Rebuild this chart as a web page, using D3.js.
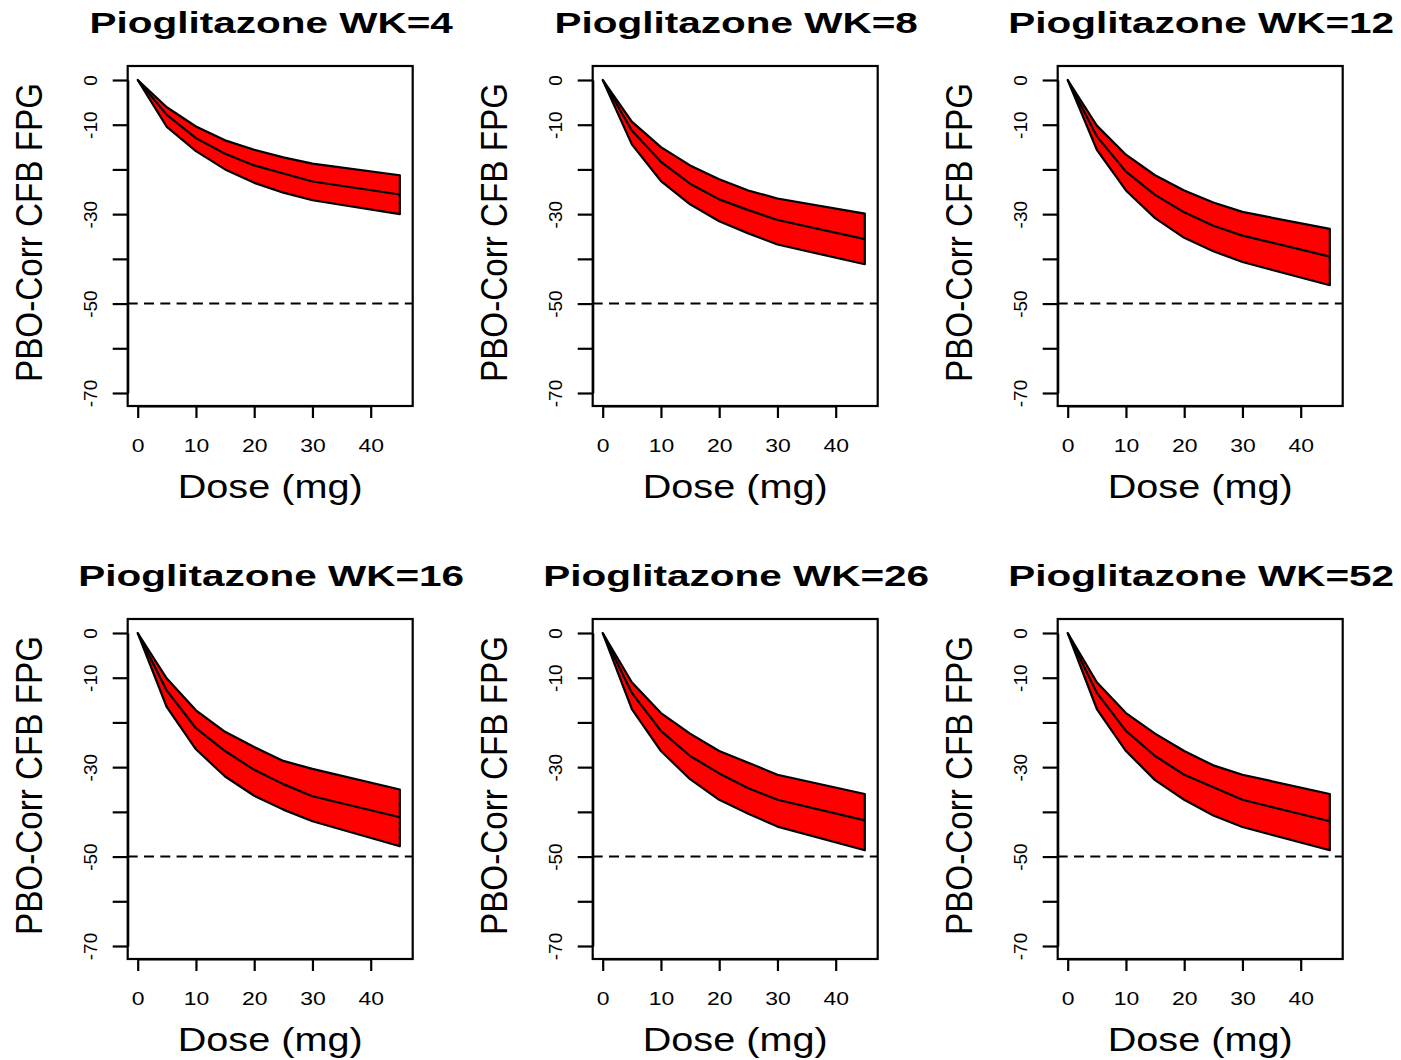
<!DOCTYPE html>
<html>
<head>
<meta charset="utf-8">
<script src="https://cdn.jsdelivr.net/npm/d3@7"></script>
<style>
  html, body { margin: 0; padding: 0; background: #ffffff; }
  svg { display: block; }
  text { font-family: "Liberation Sans", Arial, Helvetica, sans-serif; fill: #000; }
</style>
</head>
<body>
<svg id="chart" width="1401" height="1060"></svg>
<script>
// ---------------- data ----------------
const doses = [0, 5, 10, 15, 20, 25, 30, 45];
const weeks = [4, 8, 12, 16, 26, 52];

const wk4Upper  = [0, -6.1, -10.4, -13.5, -15.6, -17.3, -18.7, -21.3];
const wk4Mean   = [0, -7.8, -13.0, -16.5, -19.1, -20.9, -22.7, -25.6];
const wk4Lower  = [0, -10.5, -15.9, -20.0, -23.0, -25.2, -26.9, -30.0];

const wk8Upper  = [0, -9.3, -15.0, -19.1, -22.2, -24.7, -26.5, -29.9];
const wk8Mean   = [0, -11.3, -18.3, -23.2, -26.7, -29.1, -31.3, -35.6];
const wk8Lower  = [0, -14.4, -22.6, -27.8, -31.6, -34.3, -36.8, -41.2];

const wk12Upper = [0, -10.2, -16.7, -21.3, -24.7, -27.4, -29.5, -33.3];
const wk12Mean  = [0, -12.6, -20.5, -25.7, -29.6, -32.6, -34.8, -39.5];
const wk12Lower = [0, -15.6, -24.7, -30.9, -35.3, -38.3, -40.7, -45.9];

const wk16Upper = [0, -10.2, -17.3, -22.1, -25.5, -28.6, -30.4, -35.0];
const wk16Mean  = [0, -12.9, -21.3, -26.4, -30.6, -33.8, -36.5, -41.2];
const wk16Lower = [0, -16.6, -26.0, -32.1, -36.4, -39.5, -42.1, -47.7];

const wk26Upper = [0, -11.0, -17.9, -22.5, -26.4, -29.0, -31.7, -36.0];
const wk26Mean  = [0, -13.4, -21.9, -27.5, -31.4, -34.7, -37.3, -41.9];
const wk26Lower = [0, -17.0, -26.4, -32.7, -37.3, -40.4, -43.3, -48.6];

const wk52Upper = [0, -11.0, -17.9, -22.5, -26.4, -29.6, -31.7, -36.0];
const wk52Mean  = [0, -13.4, -21.9, -27.5, -31.7, -34.5, -37.3, -42.1];
const wk52Lower = [0, -17.0, -26.4, -32.9, -37.3, -40.8, -43.4, -48.6];

const uppers = [wk4Upper, wk8Upper, wk12Upper, wk16Upper, wk26Upper, wk52Upper];
const means  = [wk4Mean, wk8Mean, wk12Mean, wk16Mean, wk26Mean, wk52Mean];
const lowers = [wk4Lower, wk8Lower, wk12Lower, wk16Lower, wk26Lower, wk52Lower];

const xTicks = [0, 10, 20, 30, 40];
const yTicks = [0, -10, -20, -30, -40, -50, -60, -70];
const yTickLabels = ["0", "-10", "", "-30", "", "-50", "", "-70"];
const refLine = -50;

const titlePrefix = "Pioglitazone WK=";
const xTitle = "Dose (mg)";
const yTitle = "PBO-Corr CFB FPG";

// ---------------- layout ----------------
const colLeft = [127.7, 592.7, 1057.7];
const rowTop = [66, 619];
const boxW = 285, boxH = 340;

const svg = d3.select("#chart");

weeks.forEach((wk, i) => {
  const left = colLeft[i % 3];
  const top = rowTop[Math.floor(i / 3)];

  const x = d3.scaleLinear().domain([0, 40]).range([left + 10, left + 243]);
  const y = d3.scaleLinear().domain([-70, 0]).range([top + 327, top + 14]);

  const g = svg.append("g");

  const pts = doses.map((d, k) => ({ dose: d, up: uppers[i][k], mid: means[i][k], lo: lowers[i][k] }));

  // band
  const area = d3.area()
    .x(d => x(d.dose))
    .y0(d => y(d.lo))
    .y1(d => y(d.up));
  g.append("path")
    .datum(pts)
    .attr("d", area)
    .attr("fill", "#ff0000")
    .attr("stroke", "#000")
    .attr("stroke-width", 2.2)
    .attr("stroke-linejoin", "round");

  // mean line
  const line = d3.line().x(d => x(d.dose)).y(d => y(d.mid));
  g.append("path")
    .datum(pts)
    .attr("d", line)
    .attr("fill", "none")
    .attr("stroke", "#000")
    .attr("stroke-width", 2.2)
    .attr("stroke-linejoin", "round");

  // reference dashed line
  g.append("line")
    .attr("x1", left).attr("x2", left + boxW)
    .attr("y1", y(refLine)).attr("y2", y(refLine))
    .attr("stroke", "#000")
    .attr("stroke-width", 2)
    .attr("stroke-dasharray", "10,6.3");

  // box
  g.append("rect")
    .attr("x", left).attr("y", top)
    .attr("width", boxW).attr("height", boxH)
    .attr("fill", "none")
    .attr("stroke", "#000")
    .attr("stroke-width", 2.2);

  // x axis
  const xAxis = g.append("g")
    .attr("transform", `translate(0,${top + boxH})`)
    .call(d3.axisBottom(x).tickValues(xTicks).tickSize(12).tickSizeOuter(0).tickFormat(d3.format("d")));
  xAxis.selectAll("path, line").attr("stroke", "#000").attr("stroke-width", 2.2);
  xAxis.selectAll("text")
    .attr("y", null).attr("dy", null)
    .attr("transform", "translate(0,45.7) scale(1.22,1)")
    .attr("font-size", 18.8)
    .attr("font-family", "Liberation Sans, Arial, sans-serif");

  // y axis
  const yAxis = g.append("g")
    .attr("transform", `translate(${left},0)`)
    .call(d3.axisLeft(y).tickValues(yTicks).tickSize(15).tickSizeOuter(0).tickFormat((d, k) => yTickLabels[k]));
  yAxis.selectAll("path, line").attr("stroke", "#000").attr("stroke-width", 2.2);
  yAxis.selectAll("text")
    .attr("x", null).attr("dy", null)
    .attr("text-anchor", "middle")
    .attr("transform", "translate(-30.7,0) rotate(-90)")
    .attr("font-size", 19)
    .attr("font-family", "Liberation Sans, Arial, sans-serif");

  // title
  g.append("text")
    .attr("transform", `translate(${left + boxW / 2 + 1},${top - 32.7}) scale(1.35,1)`)
    .attr("text-anchor", "middle")
    .attr("font-size", 30)
    .attr("font-weight", "bold")
    .text(titlePrefix + wk);

  // x title
  g.append("text")
    .attr("transform", `translate(${left + boxW / 2},${top + boxH + 92.3}) scale(1.22,1)`)
    .attr("text-anchor", "middle")
    .attr("font-size", 32.5)
    .text(xTitle);

  // y title
  g.append("text")
    .attr("transform", `translate(${left - 86},${top + boxH / 2 - 3.5}) rotate(-90)`)
    .attr("text-anchor", "middle")
    .attr("font-size", 37)
    .attr("textLength", 299)
    .attr("lengthAdjust", "spacingAndGlyphs")
    .text(yTitle);
});
</script>
</body>
</html>
